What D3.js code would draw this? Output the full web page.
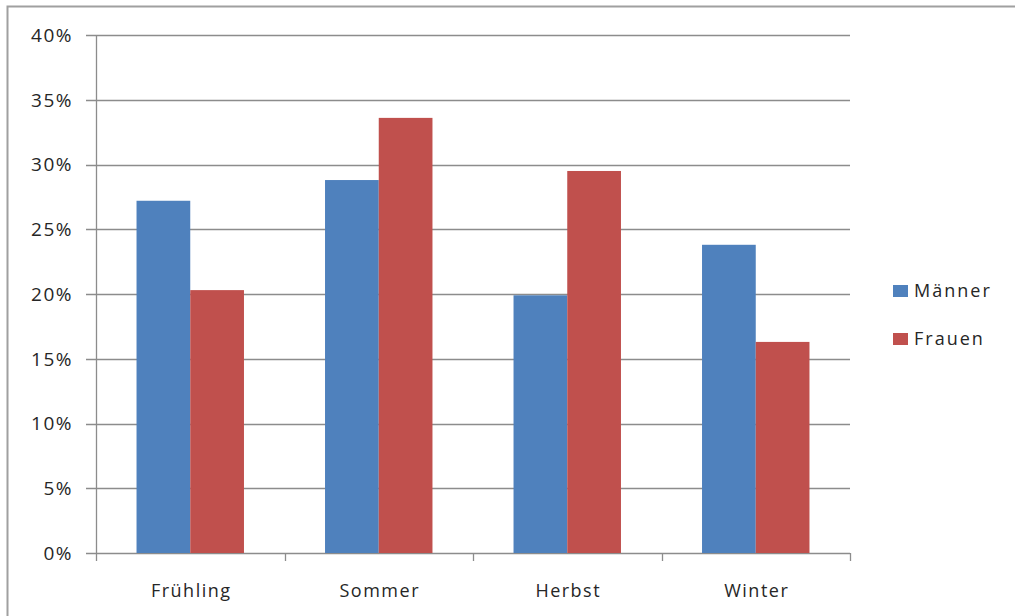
<!DOCTYPE html>
<meta charset="utf-8">
<style>
    body { margin: 0; background: #fff; }
    svg text { font-family: "Open Sans", sans-serif; fill: #262626; }
</style>
<body>
<svg width="1015" height="616"></svg>
<script src="https://d3js.org/d3.v7.min.js"></script>
<script>
    const seasons = ["Frühling", "Sommer", "Herbst", "Winter"];
    const seriesNames = ["Männer", "Frauen"];
    const maenner = [27.2, 28.8, 19.9, 23.8];
    const frauen = [20.3, 33.6, 29.5, 16.3];
    const yTicks = [0, 5, 10, 15, 20, 25, 30, 35, 40];

    const colors = { "Männer": "#4f81bd", "Frauen": "#c0504d" };

    const svg = d3.select("svg");
    const margin = { top: 35, left: 96, right: 165, bottom: 63 };
    const width = 1015 - margin.left - margin.right;
    const height = 616 - margin.top - margin.bottom;

    // outer chart border (cut off at right and bottom)
    svg.append("rect")
        .attr("x", 7.5).attr("y", 6.5)
        .attr("width", 1100).attr("height", 700)
        .attr("fill", "none").attr("stroke", "#a0a0a0").attr("stroke-width", 2);

    const g = svg.append("g").attr("transform", `translate(${margin.left},${margin.top})`);

    const x0 = d3.scaleBand().domain(seasons).range([0, width]).paddingInner(0).paddingOuter(0);
    const x1 = d3.scaleBand().domain(seriesNames).range([x0.bandwidth() * 0.215, x0.bandwidth() * 0.785]);
    const y = d3.scaleLinear().domain([0, 40]).range([height, 0]);

    // gridlines
    g.append("g")
        .selectAll("line")
        .data(yTicks)
        .join("line")
        .attr("x1", -10).attr("x2", width)
        .attr("y1", d => Math.round(y(d)) + 0.5).attr("y2", d => Math.round(y(d)) + 0.5)
        .attr("stroke", "#8c8c8c").attr("stroke-width", 1.3);

    // bars
    const data = seasons.map((s, i) => ({ season: s, values: [
        { name: "Männer", value: maenner[i] },
        { name: "Frauen", value: frauen[i] }
    ] }));

    g.append("g")
        .selectAll("g")
        .data(data)
        .join("g")
        .attr("transform", d => `translate(${x0(d.season)},0)`)
        .selectAll("rect")
        .data(d => d.values)
        .join("rect")
        .attr("x", d => x1(d.name))
        .attr("width", x1.bandwidth())
        .attr("y", d => y(d.value))
        .attr("height", d => height - y(d.value))
        .attr("fill", d => colors[d.name]);

    // y axis line
    g.append("line")
        .attr("x1", 0.5).attr("x2", 0.5).attr("y1", 0).attr("y2", height)
        .attr("stroke", "#8c8c8c").attr("stroke-width", 1.3);

    // y labels
    g.append("g")
        .selectAll("text")
        .data(yTicks)
        .join("text")
        .attr("x", -23)
        .attr("y", d => y(d))
        .attr("dy", "0.36em")
        .attr("text-anchor", "end")
        .style("font-size", "19px")
        .style("letter-spacing", "1.5px")
        .text(d => d + "%");

    // x axis ticks at band boundaries
    const xTickPos = seasons.map(s => x0(s)).concat([width]);
    g.append("g")
        .selectAll("line")
        .data(xTickPos)
        .join("line")
        .attr("x1", d => Math.round(d) + 0.5).attr("x2", d => Math.round(d) + 0.5)
        .attr("y1", height).attr("y2", height + 8)
        .attr("stroke", "#8c8c8c").attr("stroke-width", 1.3);

    // x labels
    g.append("g")
        .selectAll("text")
        .data(seasons)
        .join("text")
        .attr("x", d => x0(d) + x0.bandwidth() / 2 + 1)
        .attr("y", height + 44)
        .attr("text-anchor", "middle")
        .style("font-size", "18px")
        .style("letter-spacing", "1.5px")
        .text(d => d);

    // legend
    const legend = svg.append("g").attr("transform", "translate(893,285)");
    const items = legend.selectAll("g")
        .data(seriesNames)
        .join("g")
        .attr("transform", (d, i) => `translate(0,${i * 48})`);
    items.append("rect")
        .attr("width", 15).attr("height", 12)
        .attr("fill", d => colors[d]);
    items.append("text")
        .attr("x", 21).attr("y", 6)
        .attr("dy", "0.36em")
        .style("font-size", "18px")
        .style("letter-spacing", "2px")
        .text(d => d);
</script>
</body>
